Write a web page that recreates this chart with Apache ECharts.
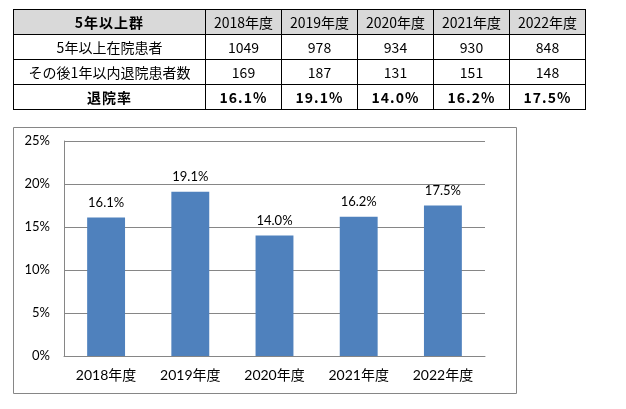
<!DOCTYPE html>
<html><head><meta charset="utf-8">
<script src="https://cdn.jsdelivr.net/npm/echarts@6/dist/echarts.min.js"></script>
<style>
html,body{margin:0;padding:0;background:#fff;width:626px;height:409px;overflow:hidden;}
#chart{position:absolute;left:0;top:0;width:626px;height:409px;}
#tbl{position:absolute;left:13px;top:9px;border-collapse:collapse;font-family:"Noto Sans CJK JP","Liberation Sans",sans-serif;font-size:14px;color:#000;}
#tbl td{border:1px solid #000;height:24px;padding:0;text-align:center;line-height:24px;white-space:nowrap;}
#tbl tr.hd td{background:#d9d9d9;}
#tbl td.b{font-weight:bold;letter-spacing:1px;}
</style></head>
<body>
<div id="chart"></div>
<table id="tbl"></table>
<script>
const headerTitle = "5年以上群";
const years = ["2018年度","2019年度","2020年度","2021年度","2022年度"];
const rowLabels = ["5年以上在院患者","その後1年以内退院患者数","退院率"];
const inpatients = [1049, 978, 934, 930, 848];
const discharged = [169, 187, 131, 151, 148];
const rates = [16.1, 19.1, 14.0, 16.2, 17.5];
const yTicks = [0, 5, 10, 15, 20, 25];

// table
const tbl = document.getElementById('tbl');
function addRow(cells, cls, boldAll){
  const tr = document.createElement('tr');
  if (cls) tr.className = cls;
  cells.forEach((c,i)=>{
    const td = document.createElement('td');
    td.textContent = c;
    td.style.width = i===0 ? '191px' : '75px';
    td.style.minWidth = td.style.width;
    td.style.maxWidth = td.style.width;
    if (boldAll) td.className = 'b';
    tr.appendChild(td);
  });
  tbl.appendChild(tr);
}
addRow([headerTitle].concat(years), 'hd', false);
tbl.rows[0].cells[0].className = 'b';
addRow([rowLabels[0]].concat(inpatients.map(String)));
addRow([rowLabels[1]].concat(discharged.map(String)));
addRow([rowLabels[2]].concat(rates.map(v=>v.toFixed(1)+'%')), null, true);

// chart
const chart = echarts.init(document.getElementById('chart'));
const font = "Lato, 'Noto Sans CJK JP', sans-serif";
chart.setOption({
  animation:false,
  graphic:[{type:'rect',shape:{x:13.5,y:127.5,width:503,height:266},style:{fill:'none',stroke:'#868686',lineWidth:1}}],
  grid:{left:64,right:141,top:141,bottom:53},
  xAxis:{type:'category',data:years,
    axisLine:{lineStyle:{color:'#868686'}},axisTick:{show:false},
    axisLabel:{color:'#000',fontSize:14,fontFamily:font,margin:12}},
  yAxis:{type:'value',min:yTicks[0],max:yTicks[yTicks.length-1],interval:5,
    axisLine:{show:true,lineStyle:{color:'#868686'}},axisTick:{show:false},
    splitLine:{lineStyle:{color:'#868686'}},
    axisLabel:{color:'#000',fontSize:13,fontFamily:font,margin:14,formatter:v=>v+'%'}},
  series:[{type:'bar',data:rates,barWidth:'45%',itemStyle:{color:'#4f81bd'},
    label:{show:true,position:'top',distance:8,color:'#000',fontSize:13,fontFamily:font,formatter:p=>p.value.toFixed(1)+'%'}}]
});
</script>
</body></html>
